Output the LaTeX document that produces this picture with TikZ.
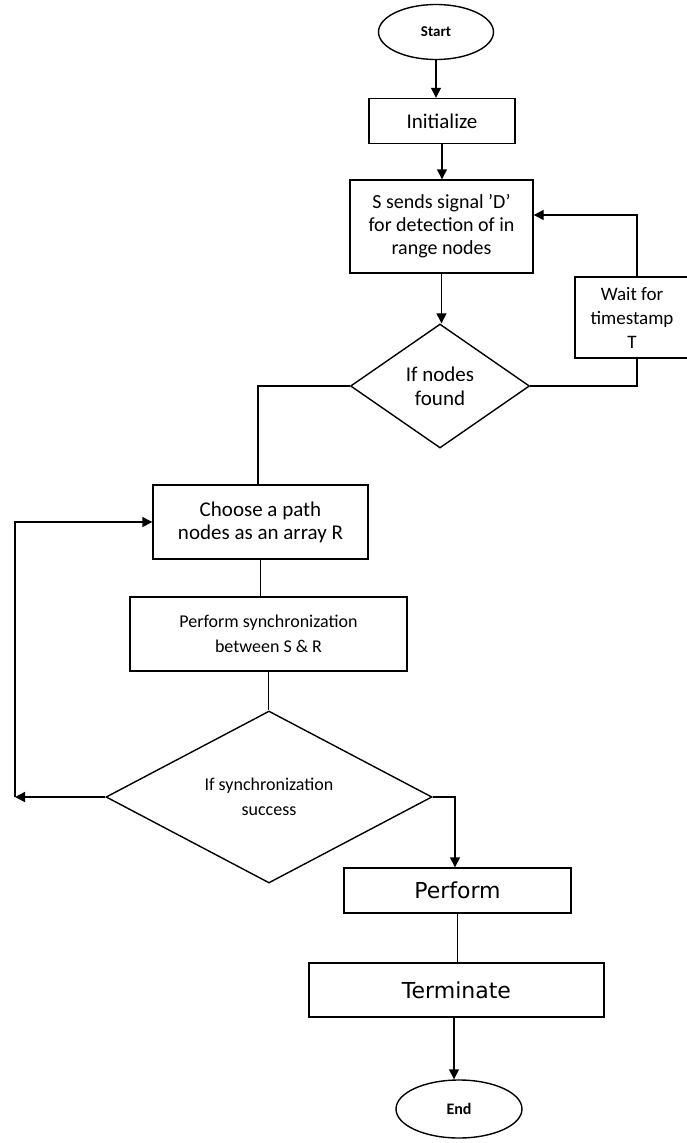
\documentclass[tikz,border=0pt]{standalone}
\usepackage{fontspec}
\setmainfont{Carlito}
\newfontfamily\vfont{DejaVu Sans}
\usetikzlibrary{shapes.geometric,arrows.meta}

\begin{document}
\begin{tikzpicture}[x=1pt,y=-1pt,line width=1.4pt,
    box/.style={draw,rectangle,inner sep=0pt,align=center},
    term/.style={draw,ellipse,inner sep=0pt,font=\bfseries},
    cond/.style={draw,diamond,inner sep=0pt,align=center},
    arr/.style={-{Triangle[length=10pt,width=10pt]}}]

    \useasboundingbox (0,0) rectangle (686,1143);

    \node (start) [term,minimum width=115pt,minimum height=55pt,font=\bfseries\fontsize{15}{17}\selectfont] at (436,32) {Start};
    \node (init) [box,minimum width=146pt,minimum height=45pt,font=\fontsize{21}{25}\selectfont] at (442,121) {Initialize};
    \node (detect) [box,minimum width=183pt,minimum height=93pt,font=\fontsize{20}{23}\selectfont] at (441.5,226.5) {S sends signal 'D'\\ for detection of in\\ range nodes};
    \node (found) [cond,aspect=1.44,minimum width=179pt,minimum height=124pt,font=\fontsize{21}{24}\selectfont] at (440,386) {If nodes\\ found};
    \node (wait) [box,minimum width=114pt,minimum height=81pt,font=\fontsize{19}{24}\selectfont] at (632,317.5) {Wait for\\ timestamp\\ T};

    \node (choose) [box,minimum width=215pt,minimum height=74pt,font=\fontsize{21}{23}\selectfont] at (260.5,522) {Choose a path\\ nodes as an array R};
    \node (sync) [box,minimum width=277pt,minimum height=74pt,font=\fontsize{18}{25}\selectfont] at (268.5,634) {Perform synchronization\\ between S \& R};
    \node (success) [cond,aspect=1.9,minimum width=326pt,minimum height=172pt,font=\fontsize{18}{25}\selectfont] at (269,797) {If synchronization\\ success};

    \node (perform) [box,minimum width=227pt,minimum height=45pt,font=\vfont\fontsize{22}{26}\selectfont] at (457.5,890.5) {Perform};
    \node (terminate) [box,minimum width=295pt,minimum height=54pt,font=\vfont\fontsize{22}{26}\selectfont] at (456.5,990) {Terminate};
    \node (end) [term,minimum width=126pt,minimum height=58pt,font=\bfseries\fontsize{16}{18}\selectfont] at (459,1109) {End};

    \coordinate (loop) at (15,797);

    % main line
    \draw[arr] (start.south) -- (start.south |- init.north);
    \draw[arr] (init.south) -- (init.south |- detect.north);
    \draw[arr] (detect.south) -- (detect.south |- found.north);

    % wait loop
    \draw (found.east) -| ([xshift=5pt]wait.south);
    \draw[arr] ([xshift=5pt]wait.north) |- ([yshift=11.5pt]detect.east);

    \draw (found.west) -| ([xshift=-2.5pt]choose.north);
    \draw (choose.south) -- (choose.south |- sync.north);
    \draw (sync.south) -- (sync.south |- success.north);

    % retry loop
    \draw[arr] (success.west) -- (loop);
    \draw[arr] (loop) |- (choose.west);

    \draw[arr] (success.east) -| ([xshift=-2.5pt]perform.north);
    \draw (perform.south) -- (perform.south |- terminate.north);
    \draw[arr] ([xshift=-2.5pt]terminate.south) -- ([xshift=-2.5pt]terminate.south |- end.north);

\end{tikzpicture}
\end{document}
